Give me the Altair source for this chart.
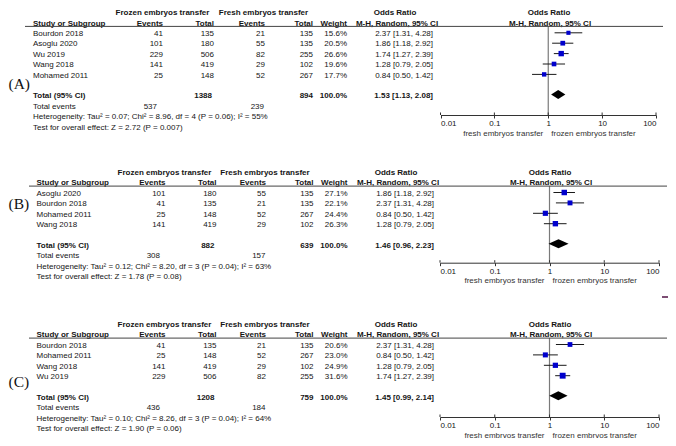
import altair as alt
import pandas as pd

# ---------------- data: panel (A) ----------------
a_study = ["Bourdon 2018", "Asoglu 2020", "Wu 2019", "Wang 2018", "Mohamed 2011"]
a_frozen_events = [41, 101, 229, 141, 25]
a_frozen_total = [135, 180, 506, 419, 148]
a_fresh_events = [21, 55, 82, 29, 52]
a_fresh_total = [135, 135, 255, 102, 267]
a_weight = [15.6, 20.5, 26.6, 19.6, 17.7]
a_or = [2.37, 1.86, 1.74, 1.28, 0.84]
a_lo = [1.31, 1.18, 1.27, 0.79, 0.50]
a_hi = [4.28, 2.92, 2.39, 2.05, 1.42]
a_totals = [1388, 894]
a_total_events = [537, 239]
a_pooled = [1.53, 1.13, 2.08]
a_het = "Heterogeneity: Tau² = 0.07; Chi² = 8.96, df = 4 (P = 0.06); I² = 55%"
a_test = "Test for overall effect: Z = 2.72 (P = 0.007)"

# ---------------- data: panel (B) ----------------
b_study = ["Asoglu 2020", "Bourdon 2018", "Mohamed 2011", "Wang 2018"]
b_frozen_events = [101, 41, 25, 141]
b_frozen_total = [180, 135, 148, 419]
b_fresh_events = [55, 21, 52, 29]
b_fresh_total = [135, 135, 267, 102]
b_weight = [27.1, 22.1, 24.4, 26.3]
b_or = [1.86, 2.37, 0.84, 1.28]
b_lo = [1.18, 1.31, 0.50, 0.79]
b_hi = [2.92, 4.28, 1.42, 2.05]
b_totals = [882, 639]
b_total_events = [308, 157]
b_pooled = [1.46, 0.96, 2.23]
b_het = "Heterogeneity: Tau² = 0.12; Chi² = 8.20, df = 3 (P = 0.04); I² = 63%"
b_test = "Test for overall effect: Z = 1.78 (P = 0.08)"

# ---------------- data: panel (C) ----------------
c_study = ["Bourdon 2018", "Mohamed 2011", "Wang 2018", "Wu 2019"]
c_frozen_events = [41, 25, 141, 229]
c_frozen_total = [135, 148, 419, 506]
c_fresh_events = [21, 52, 29, 82]
c_fresh_total = [135, 267, 102, 255]
c_weight = [20.6, 23.0, 24.9, 31.6]
c_or = [2.37, 0.84, 1.28, 1.74]
c_lo = [1.31, 0.50, 0.79, 1.27]
c_hi = [4.28, 1.42, 2.05, 2.39]
c_totals = [1208, 759]
c_total_events = [436, 184]
c_pooled = [1.45, 0.99, 2.14]
c_het = "Heterogeneity: Tau² = 0.10; Chi² = 8.26, df = 3 (P = 0.04); I² = 64%"
c_test = "Test for overall effect: Z = 1.90 (P = 0.06)"

total_weight = "100.0%"
panel_labels = ["(A)", "(B)", "(C)"]
group_headers = ["Frozen embryos transfer", "Fresh embryos transfer"]
col_headers = ["Study or Subgroup", "Events", "Total", "Events", "Total", "Weight"]
or_header = ["Odds Ratio", "M-H, Random, 95% CI"]
favours = ["fresh embryos transfer", "frozen embryos transfer"]
tick_values = [0.01, 0.1, 1, 10, 100]

PANELS = {
    "A": dict(study=a_study, fe=a_frozen_events, ft=a_frozen_total, re=a_fresh_events,
              rt=a_fresh_total, w=a_weight, orr=a_or, lo=a_lo, hi=a_hi, tot=a_totals,
              tev=a_total_events, pool=a_pooled, het=a_het, test=a_test, label=panel_labels[0]),
    "B": dict(study=b_study, fe=b_frozen_events, ft=b_frozen_total, re=b_fresh_events,
              rt=b_fresh_total, w=b_weight, orr=b_or, lo=b_lo, hi=b_hi, tot=b_totals,
              tev=b_total_events, pool=b_pooled, het=b_het, test=b_test, label=panel_labels[1]),
    "C": dict(study=c_study, fe=c_frozen_events, ft=c_frozen_total, re=c_fresh_events,
              rt=c_fresh_total, w=c_weight, orr=c_or, lo=c_lo, hi=c_hi, tot=c_totals,
              tev=c_total_events, pool=c_pooled, het=c_het, test=c_test, label=panel_labels[2]),
}

# ---------------- layout (reference pixel positions) ----------------
W, H = 660, 430
M = 8
ROW_H = 10.4
FONT = "Liberation Sans"
FS = 8
TXT = "#151515"

COLS_A = dict(study=33, fe=163, ft=214, re=265, rt=313, w=347, orr=433,
              g1=162.5, g2=263.5, orh=395, fh=549, l0=25, l1=663, tev0=157, tev1=264)
COLS_BC = dict(study=36.5, fe=165.5, ft=216.5, re=266, rt=313.5, w=347.5, orr=434,
               g1=164.5, g2=265, orh=396, fh=550, l0=29, l1=667, tev0=160, tev1=265.5)
LAY = {
    "A": dict(y0=25.0, shift=9, axis=106.0, lab_y=75.0, fx=(440.5, 656.0), cols=COLS_A),
    "B": dict(y0=192.7, shift=1, axis=261.7, lab_y=202.7, fx=(440.0, 659.0), cols=COLS_BC),
    "C": dict(y0=352.7, shift=-7, axis=424.0, lab_y=389.0, fx=(440.0, 659.0), cols=COLS_BC),
}

PX = alt.Scale(domain=[0, W], range=[0, W], nice=False, zero=False)
PY = alt.Scale(domain=[0, H], range=[0, H], nice=False, zero=False)

text_rows, hline_rows, label_rows = [], [], []
layers = []


def ty(p, yimg):
    return yimg - M + LAY[p]["shift"]


def T(p, x, yimg, s, al, wt):
    text_rows.append(dict(px=x - M, py=ty(p, yimg), t=str(s), al=al, wt=wt))


for p, d in PANELS.items():
    L = LAY[p]
    c = L["cols"]
    n = len(d["study"])
    ry = lambda i: L["y0"] + i * ROW_H
    # headers
    T(p, c["g1"], ry(-2), group_headers[0], "center", "bold")
    T(p, c["g2"], ry(-2), group_headers[1], "center", "bold")
    T(p, c["orh"], ry(-2), or_header[0], "center", "bold")
    T(p, c["fh"], ry(-2), or_header[0], "center", "bold")
    T(p, c["study"], ry(-1), col_headers[0], "left", "bold")
    for key, h in zip(["fe", "ft", "re", "rt", "w"], col_headers[1:]):
        T(p, c[key], ry(-1), h, "right", "bold")
    T(p, c["orh"] + 2, ry(-1), or_header[1], "center", "bold")
    T(p, c["fh"] + 1, ry(-1), or_header[1], "center", "bold")
    line_y = ry(-1) + 2.8
    hline_rows.append(dict(x1=c["l0"] - M, x2=c["l1"] - M, y=ty(p, line_y)))
    # studies
    for i in range(n):
        y = ry(i)
        T(p, c["study"], y, d["study"][i], "left", "normal")
        T(p, c["fe"], y, d["fe"][i], "right", "normal")
        T(p, c["ft"], y, d["ft"][i], "right", "normal")
        T(p, c["re"], y, d["re"][i], "right", "normal")
        T(p, c["rt"], y, d["rt"][i], "right", "normal")
        T(p, c["w"], y, f"{d['w'][i]:.1f}%", "right", "normal")
        T(p, c["orr"], y, f"{d['orr'][i]:.2f} [{d['lo'][i]:.2f}, {d['hi'][i]:.2f}]", "right", "normal")
    # totals
    yt = ry(n + 1)
    T(p, c["study"], yt, "Total (95% CI)", "left", "bold")
    T(p, c["ft"] - 2, yt, d["tot"][0], "right", "bold")
    T(p, c["rt"], yt, d["tot"][1], "right", "bold")
    T(p, c["w"], yt, total_weight, "right", "bold")
    pl = d["pool"]
    T(p, c["orr"], yt, f"{pl[0]:.2f} [{pl[1]:.2f}, {pl[2]:.2f}]", "right", "bold")
    T(p, c["study"], ry(n + 2), "Total events", "left", "normal")
    T(p, c["tev0"], ry(n + 2), d["tev"][0], "right", "normal")
    T(p, c["tev1"], ry(n + 2), d["tev"][1], "right", "normal")
    T(p, c["study"], ry(n + 3), d["het"], "left", "normal")
    T(p, c["study"], ry(n + 4), d["test"], "left", "normal")
    label_rows.append(dict(px=0.5, py=ty(p, L["lab_y"]), t=d["label"]))

    # ----- forest part -----
    LOG = alt.Scale(type="log", domain=[0.01, 100], range=[L["fx"][0] - M, L["fx"][1] - M], nice=False)
    ax = ty(p, L["axis"])
    vdf = pd.DataFrame({"one": [1.0], "y1": [ty(p, line_y)], "y2": [ax]})
    layers.append(
        alt.Chart(vdf).mark_rule(color="#7a7a7a", strokeWidth=1.2).encode(
            x=alt.X("one:Q", scale=LOG, title="",
                    axis=alt.Axis(orient="bottom", offset=ax - H, values=tick_values, format="~g",
                                  labelFlush=True, tickSize=3, tickColor="#333333", domainColor="#333333",
                                  labelFont=FONT, labelFontSize=FS, labelColor=TXT, labelPadding=1.5,
                                  grid=False, labelOverlap=False)),
            y=alt.Y("y1:Q", scale=PY, axis=None), y2="y2:Q")
    )
    tdf = pd.DataFrame({"v": tick_values, "y1": [ax - 2.5] * 5, "y2": [ax] * 5})
    layers.append(
        alt.Chart(tdf).mark_rule(color="#333333", strokeWidth=1).encode(
            x=alt.X("v:Q", scale=LOG, axis=None),
            y=alt.Y("y1:Q", scale=PY, axis=None), y2="y2:Q")
    )
    fdf = pd.DataFrame({"orr": d["orr"], "lo": d["lo"], "hi": d["hi"], "w": d["w"],
                        "y": [ty(p, ry(i)) - 1.2 for i in range(n)]})
    layers.append(
        alt.Chart(fdf).mark_rule(color="#1a1a1a", strokeWidth=1).encode(
            x=alt.X("lo:Q", scale=LOG, axis=None), x2="hi:Q",
            y=alt.Y("y:Q", scale=PY, axis=None))
    )
    layers.append(
        alt.Chart(fdf).mark_square(color="#0000cc", opacity=1, filled=True).encode(
            x=alt.X("orr:Q", scale=LOG, axis=None),
            y=alt.Y("y:Q", scale=PY, axis=None),
            size=alt.Size("w:Q", scale=alt.Scale(domain=[0, 30], range=[0, 33]), legend=None))
    )
    yd = ty(p, yt) - 2
    ddf = pd.DataFrame({"x": [pl[1], pl[0], pl[2]], "ya": [yd, yd - 4.5, yd], "yb": [yd, yd + 4.5, yd]})
    layers.append(
        alt.Chart(ddf).mark_area(color="black", orient="vertical", interpolate="linear").encode(
            x=alt.X("x:Q", scale=LOG, axis=None),
            y=alt.Y("ya:Q", scale=PY, axis=None), y2="yb:Q")
    )
    fav = pd.DataFrame({"one": [1.0], "y": [ax + 18.5]})
    layers.append(
        alt.Chart(fav).mark_text(align="right", baseline="middle", dx=-5, font=FONT, fontSize=FS,
                                 color="#333333", text=favours[0]).encode(
            x=alt.X("one:Q", scale=LOG, axis=None), y=alt.Y("y:Q", scale=PY, axis=None))
    )
    layers.append(
        alt.Chart(fav).mark_text(align="left", baseline="middle", dx=3, font=FONT, fontSize=FS,
                                 color="#333333", text=favours[1]).encode(
            x=alt.X("one:Q", scale=LOG, axis=None), y=alt.Y("y:Q", scale=PY, axis=None))
    )

tx = pd.DataFrame(text_rows)
for al in ["left", "right", "center"]:
    for wt in ["normal", "bold"]:
        sub = tx[(tx.al == al) & (tx.wt == wt)]
        if len(sub) == 0:
            continue
        layers.append(
            alt.Chart(sub).mark_text(align=al, baseline="middle", font=FONT, fontSize=FS,
                                     fontWeight=wt, color=TXT).encode(
                x=alt.X("px:Q", scale=PX, axis=None),
                y=alt.Y("py:Q", scale=PY, axis=None),
                text="t:N")
        )

layers.append(
    alt.Chart(pd.DataFrame(hline_rows)).mark_rule(color="#444444", strokeWidth=1).encode(
        x=alt.X("x1:Q", scale=PX, axis=None), x2="x2:Q",
        y=alt.Y("y:Q", scale=PY, axis=None))
)
layers.append(
    alt.Chart(pd.DataFrame(label_rows)).mark_text(align="left", baseline="middle",
                                                  font="Liberation Serif", fontSize=15.5,
                                                  color="#111111").encode(
        x=alt.X("px:Q", scale=PX, axis=None),
        y=alt.Y("py:Q", scale=PY, axis=None),
        text="t:N")
)
# small purple stroke at the right edge of the reference
layers.append(
    alt.Chart(pd.DataFrame({"x1": [662 - M], "x2": [676 - M], "y": [297 - M]})).mark_rule(
        color="#7d4e74", strokeWidth=2).encode(
        x=alt.X("x1:Q", scale=PX, axis=None), x2="x2:Q",
        y=alt.Y("y:Q", scale=PY, axis=None))
)

chart = alt.layer(*layers).resolve_scale(x="independent").properties(
    width=W, height=H, autosize=alt.AutoSizeParams(type="none"), padding=0
).configure_view(stroke=None)

chart.save("out.html", embed_options={"renderer": "svg", "actions": False})
